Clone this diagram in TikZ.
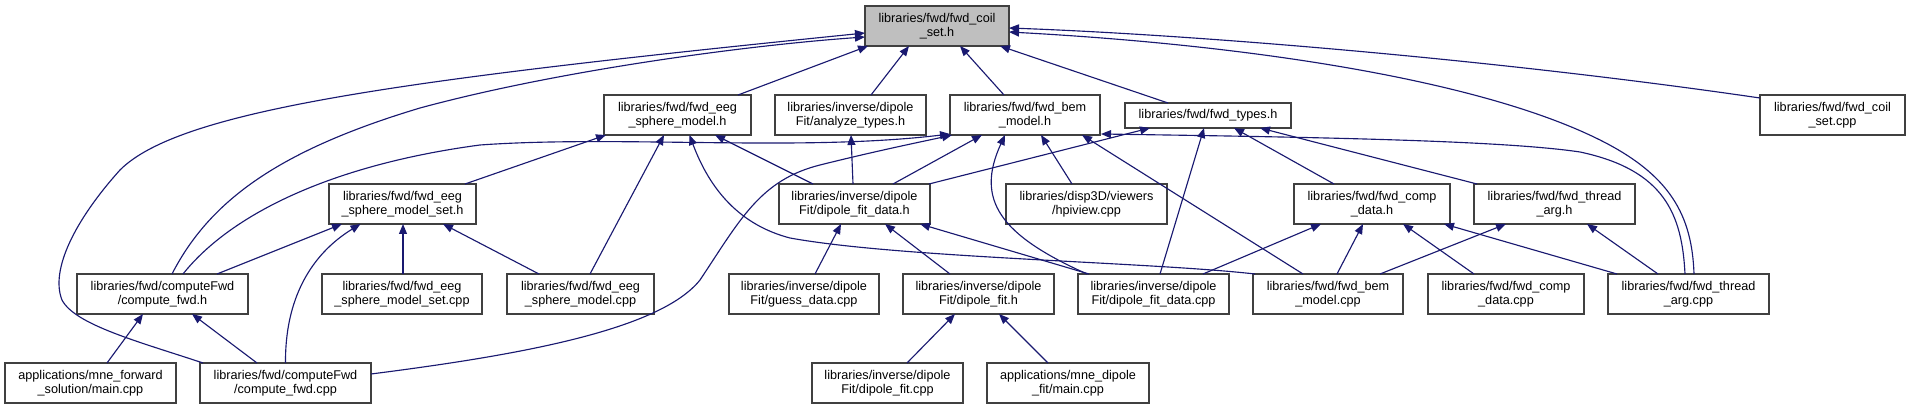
\documentclass[tikz,border=0pt]{standalone}
\usepackage{fontspec}
\setmainfont{Liberation Sans}
\usetikzlibrary{arrows.meta,calc}
\definecolor{edgec}{RGB}{25,25,112}
\definecolor{boxc}{RGB}{64,64,64}
\definecolor{focusc}{RGB}{191,191,191}
\tikzset{
  box/.style={draw=boxc, line width=1pt, fill=white, inner sep=0pt, outer sep=0pt,
    align=center, minimum height=30pt, font=\fontsize{9.5}{10.7}\selectfont},
  onebox/.style={box, minimum height=18.75pt},
  focus/.style={box, fill=focusc},
  edge/.style={draw=edgec, line width=0.85pt, -{Triangle[length=7.5pt,width=6pt]}}
}
\begin{document}
\begin{tikzpicture}[x=0.75pt,y=-0.75pt]
\useasboundingbox (0,0) rectangle (1909,409);
% row 1
\node[focus, minimum width=108pt] (coil_h) at (937,26) {libraries/fwd/fwd\_coil\\\_set.h};
% row 2
\node[box, minimum width=110.25pt] (sph_h) at (677.5,115) {libraries/fwd/fwd\_eeg\\\_sphere\_model.h};
\node[box, minimum width=113.25pt] (ana_h) at (850.5,115) {libraries/inverse/dipole\\Fit/analyze\_types.h};
\node[box, minimum width=112.5pt] (bem_h) at (1025,115) {libraries/fwd/fwd\_bem\\\_model.h};
\node[onebox, minimum width=124.5pt] (types_h) at (1208,115.5) {libraries/fwd/fwd\_types.h};
\node[box, minimum width=108.75pt] (coil_cpp) at (1832.5,115) {libraries/fwd/fwd\_coil\\\_set.cpp};
% row 3
\node[box, minimum width=110.25pt] (sphset_h) at (402.5,204) {libraries/fwd/fwd\_eeg\\\_sphere\_model\_set.h};
\node[box, minimum width=113.25pt] (dfd_h) at (854.5,204) {libraries/inverse/dipole\\Fit/dipole\_fit\_data.h};
\node[box, minimum width=120.75pt] (hpi) at (1086.5,204) {libraries/disp3D/viewers\\/hpiview.cpp};
\node[box, minimum width=117pt] (comp_h) at (1372,204) {libraries/fwd/fwd\_comp\\\_data.h};
\node[box, minimum width=120.75pt] (thr_h) at (1554.5,204) {libraries/fwd/fwd\_thread\\\_arg.h};
% row 4
\node[box, minimum width=128.25pt] (cfwd_h) at (162.5,294) {libraries/fwd/computeFwd\\/compute\_fwd.h};
\node[box, minimum width=120pt] (sphset_cpp) at (402,294) {libraries/fwd/fwd\_eeg\\\_sphere\_model\_set.cpp};
\node[box, minimum width=110.25pt] (sph_cpp) at (580.5,294) {libraries/fwd/fwd\_eeg\\\_sphere\_model.cpp};
\node[box, minimum width=112.5pt] (guess) at (804,294) {libraries/inverse/dipole\\Fit/guess\_data.cpp};
\node[box, minimum width=113.25pt] (dfit_h) at (978.5,294) {libraries/inverse/dipole\\Fit/dipole\_fit.h};
\node[box, minimum width=113.25pt] (dfd_cpp) at (1153.5,294) {libraries/inverse/dipole\\Fit/dipole\_fit\_data.cpp};
\node[box, minimum width=112.5pt] (bem_cpp) at (1328,294) {libraries/fwd/fwd\_bem\\\_model.cpp};
\node[box, minimum width=117pt] (comp_cpp) at (1506,294) {libraries/fwd/fwd\_comp\\\_data.cpp};
\node[box, minimum width=120.75pt] (thr_cpp) at (1688.5,294) {libraries/fwd/fwd\_thread\\\_arg.cpp};
% row 5
\node[box, minimum width=128.25pt] (mnefwd) at (90.5,383) {applications/mne\_forward\\\_solution/main.cpp};
\node[box, minimum width=128.25pt] (cfwd_cpp) at (285.5,383) {libraries/fwd/computeFwd\\/compute\_fwd.cpp};
\node[box, minimum width=113.25pt] (dfit_cpp) at (887.5,383) {libraries/inverse/dipole\\Fit/dipole\_fit.cpp};
\node[box, minimum width=121.5pt] (mnedip) at (1068,383) {applications/mne\_dipole\\\_fit/main.cpp};

% edges into fwd_coil_set.h
\draw[edge] ($(sph_h.north)+(60.5,0)$) -- ($(coil_h.south)+(-69,0)$);
\draw[edge] ($(ana_h.north)+(20.5,0)$) -- ($(coil_h.south)+(-28,0)$);
\draw[edge] ($(bem_h.north)+(-21,0)$) -- ($(coil_h.south)+(23,0)$);
\draw[edge] ($(types_h.north)+(-40,0)$) -- ($(coil_h.south)+(63,0)$);
\draw[edge] ($(coil_cpp.west)+(0,-17)$) .. controls (1500,60) and (1200,35) .. ($(coil_h.east)+(0,2)$);
\draw[edge] ($(thr_cpp.north)+(5.5,0)$) .. controls (1692,215) and (1670,175) .. (1600,140)
  .. controls (1480,80) and (1250,45) .. ($(coil_h.east)+(0,6)$);
\draw[edge] ($(cfwd_cpp.north)+(-82.5,0)$) .. controls (140,342) and (75,325) .. (62,300)
  .. controls (50,270) and (75,220) .. (120,170)
  .. controls (180,110) and (400,80) .. ($(coil_h.west)+(0,7)$);
\draw[edge] ($(cfwd_h.north)+(9.5,0)$) .. controls (210,200) and (280,150) .. (420,108)
  .. controls (560,70) and (750,45) .. ($(coil_h.west)+(0,11)$);

% edges into fwd_bem_model.h
\draw[edge] ($(cfwd_h.north)+(20.5,0)$) .. controls (230,215) and (330,165) .. (480,145)
  .. controls (620,135) and (800,152) .. ($(bem_h.south west)+(0,-1)$);
\draw[edge] ($(cfwd_cpp.east)+(0,-9)$) .. controls (520,355) and (660,330) .. (700,280)
  .. controls (740,220) and (760,180) .. (820,165)
  .. controls (880,150) and (930,140) .. ($(bem_h.south west)+(2,0)$);
\draw[edge] ($(thr_cpp.north)+(-3.5,0)$) .. controls (1682,215) and (1665,170) .. (1580,152)
  .. controls (1500,140) and (1300,137) .. ($(bem_h.south east)+(1,-1)$);
\draw[edge] ($(dfd_h.north)+(38.5,0)$) -- ($(bem_h.south)+(-43,0)$);
\draw[edge] ($(dfd_cpp.north)+(-66.5,0)$) .. controls (1000,235) and (975,200) .. ($(bem_h.south)+(-20,0)$);
\draw[edge] ($(hpi.north)+(-14.5,0)$) -- ($(bem_h.south)+(16,0)$);
\draw[edge] ($(bem_cpp.north)+(-25,0)$) -- ($(bem_h.south)+(57,0)$);

% edges into fwd_eeg_sphere_model.h
\draw[edge] ($(sphset_h.north)+(62.5,0)$) -- ($(sph_h.south west)+(2,0)$);
\draw[edge] ($(sph_cpp.north)+(9.5,0)$) -- ($(sph_h.south)+(-13.5,0)$);
\draw[edge] ($(bem_cpp.north west)+(2,0)$) .. controls (1150,262) and (900,258) .. (790,238)
  .. controls (740,225) and (710,190) .. ($(sph_h.south)+(12,0)$);
\draw[edge] ($(dfd_h.north)+(-41.5,0)$) -- ($(sph_h.south)+(37.5,0)$);

% analyze_types.h
\draw[edge] ($(dfd_h.north)+(-1.5,0)$) -- ($(ana_h.south)+(0.5,0)$);

% fwd_types.h
\draw[edge] ($(dfd_h.north east)+(-1,0)$) -- ($(types_h.south)+(-58,0)$);
\draw[edge] ($(dfd_cpp.north)+(6.5,0)$) -- ($(types_h.south)+(-4,0)$);
\draw[edge] ($(comp_h.north)+(-38,0)$) -- ($(types_h.south)+(26,0)$);
\draw[edge] ($(thr_h.north)+(-77.5,0)$) -- ($(types_h.south)+(52,0)$);

% fwd_eeg_sphere_model_set.h
\draw[edge] ($(cfwd_h.north)+(54.5,0)$) -- ($(sphset_h.south)+(-60.5,0)$);
\draw[edge] (cfwd_cpp.north) .. controls (285,300) and (310,255) .. ($(sphset_h.south)+(-42,0)$);
\draw[edge] ($(sphset_cpp.north)+(1,0)$) -- ($(sphset_h.south)+(0.5,0)$);
\draw[edge] ($(sph_cpp.north)+(-41.5,0)$) -- ($(sphset_h.south)+(40.5,0)$);

% fwd_comp_data.h and fwd_thread_arg.h
\draw[edge] ($(dfd_cpp.north)+(49.5,0)$) -- ($(comp_h.south)+(-51,0)$);
\draw[edge] ($(bem_cpp.north)+(9,0)$) -- ($(comp_h.south)+(-9,0)$);
\draw[edge] ($(bem_cpp.north)+(52,0)$) -- ($(thr_h.south)+(-48.5,0)$);
\draw[edge] ($(comp_cpp.north)+(-32,0)$) -- ($(comp_h.south)+(31,0)$);
\draw[edge] ($(thr_cpp.north)+(-71.5,0)$) -- ($(comp_h.south)+(72,0)$);
\draw[edge] ($(thr_cpp.north)+(-30.5,0)$) -- ($(thr_h.south)+(32.5,0)$);

% dipole_fit_data.h
\draw[edge] ($(guess.north)+(11,0)$) -- ($(dfd_h.south)+(-13.5,0)$);
\draw[edge] ($(dfit_h.north)+(-28.5,0)$) -- ($(dfd_h.south)+(30.5,0)$);
\draw[edge] ($(dfd_cpp.north)+(-64.5,0)$) -- ($(dfd_h.south)+(65.5,0)$);

% dipole_fit.h
\draw[edge] ($(dfit_cpp.north)+(19.5,0)$) -- ($(dfit_h.south)+(-23.5,0)$);
\draw[edge] ($(mnedip.north)+(-20,0)$) -- ($(dfit_h.south)+(20.5,0)$);

% compute_fwd.h
\draw[edge] ($(mnefwd.north)+(16.5,0)$) -- ($(cfwd_h.south)+(-19.5,0)$);
\draw[edge] ($(cfwd_cpp.north)+(-28.5,0)$) -- ($(cfwd_h.south)+(29.5,0)$);
\end{tikzpicture}
\end{document}
